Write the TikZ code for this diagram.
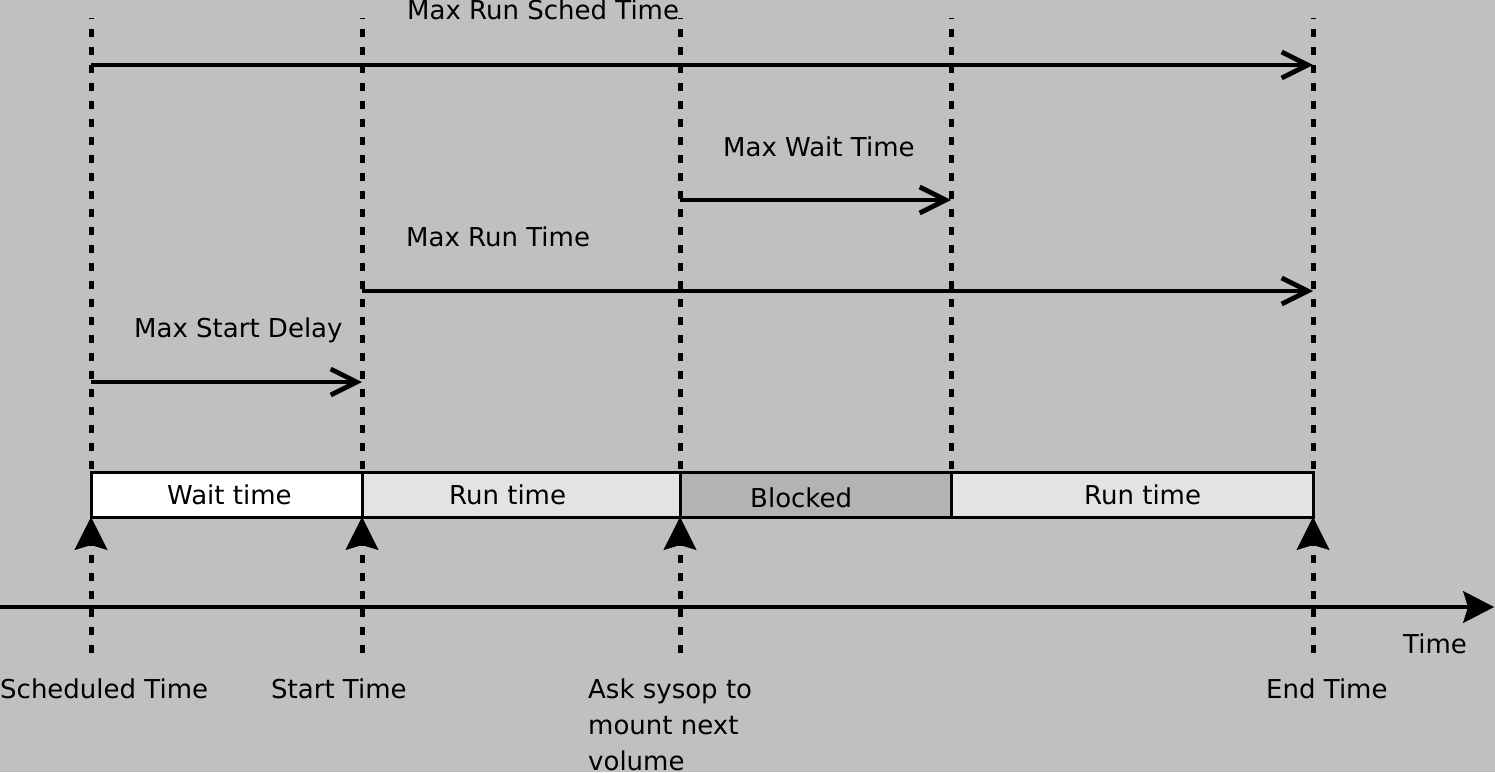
\documentclass[tikz,border=0pt]{standalone}
\usepackage{fontspec}
\setmainfont{DejaVu Sans}
\usetikzlibrary{arrows.meta}
\definecolor{bg}{HTML}{C0C0C0}
\definecolor{runfill}{HTML}{E3E3E3}
\definecolor{blockfill}{HTML}{B3B3B3}
\begin{document}
\begin{tikzpicture}[x=1pt,y=-1pt,
  lbl/.style={inner sep=0pt, anchor=base west, font=\fontsize{26}{36}\selectfont},
  guide/.style={line width=5pt, dash pattern=on 8pt off 10pt},
  spanarrow/.style={line width=4.8pt, -{Straight Barb[length=26pt,width=26pt]}},
  eventmark/.style={guide, -{Stealth[length=33pt,width=33pt,inset=5pt,line width=0.5pt]}},
  phasebox/.style={draw, line width=3pt, minimum width=#1, minimum height=45pt, inner sep=0pt, outer sep=0pt},
]
\fill[bg] (0,0) rectangle (1495,772);
\useasboundingbox (0,0) rectangle (1495,772);

% guide coordinates
\foreach \n/\x in {1/91,2/362,3/680,4/951,5/1313}{
  \coordinate (t\n) at (\x,18);
  \coordinate (k\n) at (\x,472);
  \coordinate (g\n) at (\x,653);
}
\foreach \n in {1,...,5}{
  \draw[guide, dash phase=7pt] (t\n) -- (k\n);
}

% interval arrows
\coordinate (rs0) at (91,65);   \coordinate (rs1) at (1313,65);
\coordinate (mw0) at (680,200); \coordinate (mw1) at (951,200);
\coordinate (mr0) at (362,291); \coordinate (mr1) at (1313,291);
\coordinate (sd0) at (91,382);  \coordinate (sd1) at (362,382);
\draw[spanarrow] (rs0) -- (rs1);
\draw[spanarrow] (mw0) -- (mw1);
\draw[spanarrow] (mr0) -- (mr1);
\draw[spanarrow] (sd0) -- (sd1);

\node[lbl] (lrs) at (407,19) {Max Run Sched Time};
\node[lbl] (lmw) at (723,156) {Max Wait Time};
\node[lbl] (lmr) at (406,246) {Max Run Time};
\node[lbl] (lsd) at (134,337) {Max Start Delay};

% phases
\node[phasebox=271pt, fill=white] (wait) at (226.5,494.5) {};
\node[phasebox=318pt, fill=runfill] (run1) at (521,494.5) {};
\node[phasebox=271pt, fill=blockfill] (blk) at (815.5,494.5) {};
\node[phasebox=362pt, fill=runfill] (run2) at (1132,494.5) {};
\node[lbl] (twait) at (167,504) {Wait time};
\node[lbl] (trun1) at (449,504) {Run time};
\node[lbl] (tblk) at (750,507) {Blocked};
\node[lbl] (trun2) at (1084,504) {Run time};

% event markers
\draw[eventmark] (g1) -- (wait.south west);
\draw[eventmark] (g2) -- (wait.south east);
\draw[eventmark] (g3) -- (blk.south west);
\draw[eventmark] (g5) -- (run2.south east);

% time axis
\coordinate (ax0) at (0,607);
\coordinate (ax1) at (1494,607);
\draw[line width=4.8pt, -{Stealth[length=31pt,width=32pt,inset=5pt,line width=0.5pt]}] (ax0) -- (ax1);
\node[lbl] (taxis) at (1403,653) {Time};

% event labels
\node[lbl] (esch) at (0,698) {Scheduled Time};
\node[lbl] (estart) at (271,698) {Start Time};
\node[lbl, align=left] (eask) at (588,770) {Ask sysop to\\mount next\\volume};
\node[lbl] (eend) at (1266,698) {End Time};
\end{tikzpicture}
\end{document}
